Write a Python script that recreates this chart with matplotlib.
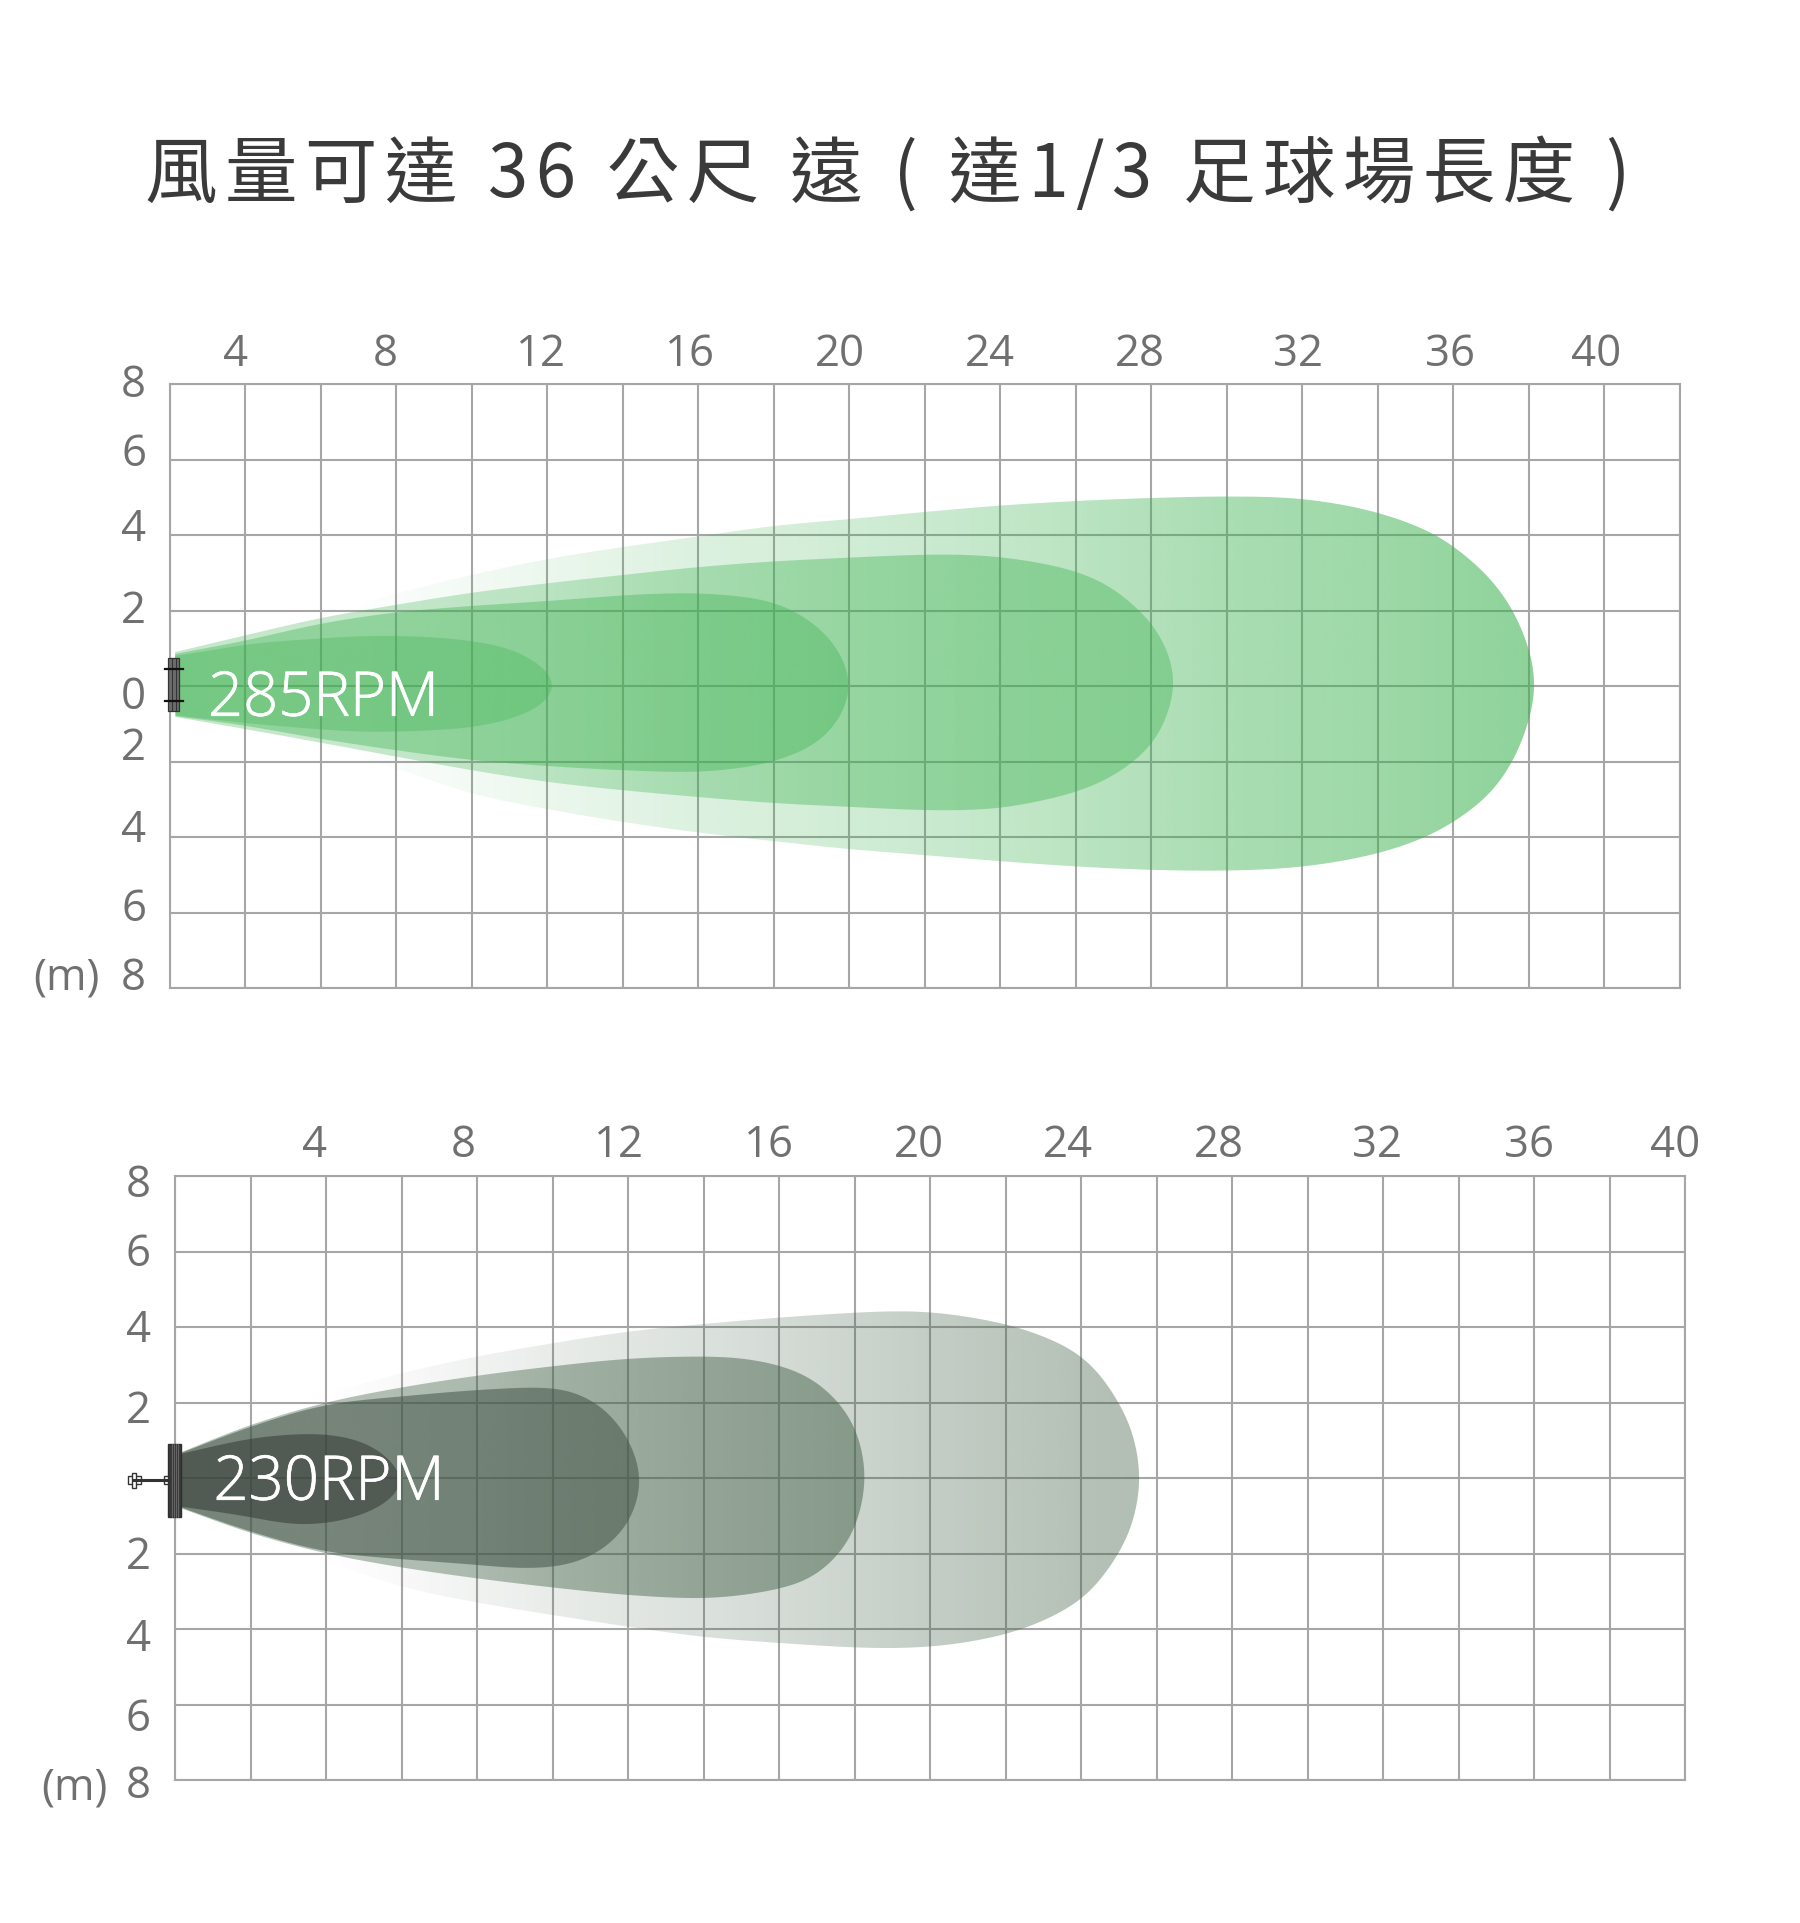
import numpy as np
import matplotlib
matplotlib.use("Agg")
import matplotlib.pyplot as plt
import matplotlib.patheffects as pe
from matplotlib.patches import Polygon, Rectangle
from matplotlib.lines import Line2D

# ---------- data ----------
title_text = "風量可達 36 公尺 遠 ( 達1/3 足球場長度 )"
x_tick_labels = ["4", "8", "12", "16", "20", "24", "28", "32", "36", "40"]
y_labels_top = ["8", "6", "4", "2", "0", "2", "4", "6", "8"]
y_labels_bottom = ["8", "6", "4", "2", "2", "4", "6", "8"]
unit_label = "(m)"
rpm_top = "285RPM"
rpm_bottom = "230RPM"

# outlines: distance (m) and lateral spread (m), top edge -> tip -> bottom edge
g1_x = [5, 6, 8, 10, 12, 14, 16, 18, 20, 22, 24, 26, 28, 30, 32, 33.55, 34, 35, 35.6, 36, 36.2,
        36, 35.6, 35, 34, 33.3, 32, 30, 28, 26, 24, 22, 20, 18, 16, 14, 12, 10, 8, 6, 5]
g1_y = [2.15, 2.45, 2.94, 3.36, 3.68, 3.96, 4.24, 4.42, 4.61, 4.78, 4.90, 4.98, 5.02, 4.96, 4.6, 4.02, 3.72, 2.85, 2.0, 1.05, 0.05,
        -0.98, -1.98, -2.85, -3.62, -4.0, -4.44, -4.79, -4.89, -4.87, -4.78, -4.64, -4.48, -4.32, -4.11, -3.88, -3.6, -3.26, -2.85, -2.18, -1.9]
g2_x = [0.15, 2, 4, 6, 8, 10, 12, 14, 16, 18, 20, 21, 22, 24, 25, 25.7, 26.1, 26.5, 26.66,
        26.5, 26.1, 25.55, 25, 24, 23, 22, 21, 20, 18, 16, 14, 12, 10, 8, 6, 4, 2, 0.15]
g2_y = [0.9, 1.34, 1.8, 2.15, 2.47, 2.72, 2.94, 3.15, 3.3, 3.4, 3.48, 3.48, 3.42, 3.05, 2.6, 2.0, 1.6, 0.8, 0.1,
        -0.6, -1.5, -2.0, -2.4, -2.82, -3.06, -3.24, -3.29, -3.29, -3.2, -3.1, -2.94, -2.76, -2.54, -2.23, -1.87, -1.5, -1.14, -0.82]
g3_x = [0.15, 2, 4, 6, 8, 10, 12, 13, 14, 15, 16, 16.55, 17.4, 17.83, 18.08,
        17.8, 17.2, 16, 15, 14, 12, 10, 8, 6, 4, 2, 0.15]
g3_y = [0.85, 1.2, 1.65, 1.95, 2.12, 2.25, 2.4, 2.45, 2.46, 2.39, 2.24, 2.0, 1.4, 0.78, 0.05,
        -0.82, -1.5, -2.01, -2.19, -2.28, -2.23, -2.12, -1.96, -1.7, -1.4, -1.05, -0.8]
g4_x = [0.15, 1, 2, 4, 5, 6, 7, 8, 8.77, 9.3, 9.8, 10.15, 10.38,
        10.2, 10, 9.3, 8.77, 8, 6, 5, 4, 2, 0.15]
g4_y = [0.8, 0.92, 1.1, 1.26, 1.32, 1.33, 1.29, 1.2, 1.06, 0.9, 0.6, 0.3, 0.05,
        -0.2, -0.46, -0.8, -0.95, -1.1, -1.21, -1.21, -1.15, -0.98, -0.78]

k1_x = [4, 6, 8, 10, 12, 14, 16, 18, 19, 20, 21, 22, 23, 24, 24.5, 25, 25.3, 25.48, 25.57,
        25.48, 25.3, 25, 24.5, 24, 22.5, 21, 20, 19, 18, 16, 14, 12, 10, 8, 6, 4]
k1_y = [2.25, 2.78, 3.22, 3.57, 3.88, 4.08, 4.25, 4.38, 4.42, 4.4, 4.27, 4.08, 3.76, 3.26, 2.75, 2.0, 1.42, 0.74, 0.0,
        -0.74, -1.42, -2.0, -2.72, -3.24, -3.99, -4.35, -4.47, -4.51, -4.49, -4.37, -4.21, -3.94, -3.63, -3.3, -2.88, -2.2]
k2_x = [0.15, 2, 4, 6, 8, 10, 12, 14, 15, 16, 16.8, 17.6, 18.02, 18.22, 18.3,
        18.22, 18, 17.6, 16.8, 16, 15, 14, 12, 10, 8, 6, 4, 2, 0.15]
k2_y = [0.68, 1.41, 2.0, 2.4, 2.71, 2.96, 3.16, 3.22, 3.18, 2.99, 2.69, 2.0, 1.36, 0.65, -0.03,
        -0.58, -1.38, -2.02, -2.7, -2.94, -3.11, -3.19, -3.1, -2.9, -2.66, -2.37, -2.0, -1.46, -0.8]
k3_x = [0.15, 2, 4, 6, 8, 10, 10.55, 11.2, 11.75, 12.15, 12.36,
        12.15, 11.9, 11.2, 10.55, 10, 9, 8, 6, 4, 2, 0.15]
k3_y = [0.66, 1.36, 1.94, 2.16, 2.33, 2.4, 2.31, 1.98, 1.45, 0.74, -0.03,
        -0.94, -1.38, -2.0, -2.27, -2.37, -2.39, -2.3, -2.15, -1.95, -1.42, -0.78]
k4_x = [0.15, 2, 3, 4, 5, 5.5, 5.9, 6.18, 5.9, 5.5, 5, 4, 3, 2, 0.15]
k4_y = [0.64, 1.05, 1.15, 1.17, 0.97, 0.7, 0.27, -0.08, -0.42, -0.75, -0.97, -1.21, -1.23, -1.03, -0.76]

# ---------- style ----------
W, H = 1800, 1923
GRID = "#a6a6a6"
TICK = "#707070"
LATIN = ["Open Sans", "DejaVu Sans"]

green_base = (60/255, 178/255, 80/255)
grey_base = (70/255, 100/255, 75/255)
slate_base = (68/255, 84/255, 72/255)
dark_base = (50/255, 55/255, 50/255)

top_layers = [
    (g1_x, g1_y, green_base, [0, 4.5, 9.4, 14, 20, 24, 28, 32, 36.2], [0, 0, .09, .18, .27, .35, .44, .50, .58]),
    (g2_x, g2_y, green_base, [0, 10, 14, 18, 22, 27], [.30, .28, .34, .39, .41, .38]),
    (g3_x, g3_y, green_base, [0, 18], [.38, .38]),
    (g4_x, g4_y, green_base, [0, 10], [.32, .32]),
]
bottom_layers = [
    (k1_x, k1_y, grey_base, [0, 4, 6, 8, 12, 16, 20, 24, 26], [0, 0, .04, .08, .16, .23, .32, .40, .42]),
    (k2_x, k2_y, grey_base, [0, 8, 10, 14, 18.5], [.40, .40, .44, .48, .52]),
    (k3_x, k3_y, slate_base, [0, 12.5], [.55, .55]),
    (k4_x, k4_y, dark_base, [0, 6.5], [.53, .53]),
]


def smooth(xs, ys, n=14, sigma=0.5, step=0.02):
    """Round the outline through the read points: centripetal Catmull-Rom,
    then a small Gaussian along its length to hide reading errors."""
    p = np.column_stack([xs, ys]).astype(float)
    p = np.vstack([2 * p[0] - p[1], p, 2 * p[-1] - p[-2]])
    out = []
    for i in range(len(p) - 3):
        p0, p1, p2, p3 = p[i:i + 4]
        t0 = 0.0
        t1 = t0 + np.linalg.norm(p1 - p0) ** .5
        t2 = t1 + np.linalg.norm(p2 - p1) ** .5
        t3 = t2 + np.linalg.norm(p3 - p2) ** .5
        t = np.linspace(t1, t2, n, endpoint=False)[:, None]
        a1 = (t1 - t) / (t1 - t0) * p0 + (t - t0) / (t1 - t0) * p1
        a2 = (t2 - t) / (t2 - t1) * p1 + (t - t1) / (t2 - t1) * p2
        a3 = (t3 - t) / (t3 - t2) * p2 + (t - t2) / (t3 - t2) * p3
        b1 = (t2 - t) / (t2 - t0) * a1 + (t - t0) / (t2 - t0) * a2
        b2 = (t3 - t) / (t3 - t1) * a2 + (t - t1) / (t3 - t1) * a3
        out.append((t2 - t) / (t2 - t1) * b1 + (t - t1) / (t2 - t1) * b2)
    out.append(p[-2][None])
    c = np.vstack(out)
    s = np.r_[0, np.cumsum(np.hypot(*np.diff(c, axis=0).T))]
    u = np.arange(0, s[-1], step)
    cx, cy = np.interp(u, s, c[:, 0]), np.interp(u, s, c[:, 1])
    m = int(4 * sigma / step)
    kern = np.exp(-0.5 * (np.arange(-m, m + 1) * step / sigma) ** 2)
    kern /= kern.sum()
    fx = np.convolve(np.pad(cx, m, mode="reflect", reflect_type="odd"), kern, mode="valid")
    fy = np.convolve(np.pad(cy, m, mode="reflect", reflect_type="odd"), kern, mode="valid")
    return np.column_stack([fx, fy])


def draw_panel(left, top, layers):
    cell = 75.5
    ax = fig.add_axes([left / W, 1 - (top + 8 * cell) / H, 20 * cell / W, 8 * cell / H], zorder=1)
    ax.set_xlim(0, 40)
    ax.set_ylim(-8, 8)
    ax.set_xticks(np.arange(0, 41, 2))
    ax.set_yticks(np.arange(-8, 9, 2))
    ax.grid(True, color=GRID, lw=1.5)
    ax.set_axisbelow(True)
    ax.tick_params(length=0, labelbottom=False, labelleft=False)
    for s in ax.spines.values():
        s.set_color(GRID)
        s.set_linewidth(1.5)
        s.set_zorder(0.6)
    gx = np.linspace(0, 40, 800)
    for i, (xs, ys, base, stops, alphas) in enumerate(layers):
        rgba = np.ones((1, gx.size, 4))
        rgba[..., :3] = base
        rgba[..., 3] = np.interp(gx, stops, alphas)
        poly = Polygon(smooth(xs, ys), closed=True, transform=ax.transData, facecolor="none", edgecolor="none")
        ax.add_patch(poly)
        im = ax.imshow(rgba, extent=[0, 40, -8, 8], aspect="auto", interpolation="bilinear",
                       origin="lower", zorder=2 + i)
        im.set_clip_path(poly)
    ax.set_xlim(0, 40)
    ax.set_ylim(-8, 8)
    return ax


fig = plt.figure(figsize=(W / 100, H / 100), dpi=100, facecolor="white")
draw_panel(169.5, 384, top_layers)
draw_panel(175.3, 1176, bottom_layers)

# overlay in pixel coordinates for the labels and the fan glyphs
ov = fig.add_axes([0, 0, 1, 1], zorder=5)
ov.set_xlim(0, W)
ov.set_ylim(H, 0)
ov.axis("off")
ov.patch.set_alpha(0)

ov.text(888, 176, "\u200a".join(title_text), ha="center", va="center",
        fontsize=52.3, color="#3a3a3a", family=["Noto Sans CJK TC", "DejaVu Sans"])

tick_fs = 31.5
for lab, px in zip(x_tick_labels, [235.4, 385, 540.5, 690.4, 840.3, 989.5, 1140.3, 1298.3, 1450.1, 1596.3]):
    ov.text(px, 349.5, lab, ha="center", va="center_baseline", fontsize=tick_fs, color=TICK, family=LATIN)
for lab, px in zip(x_tick_labels, [314.6, 463.5, 619, 768.5, 918.7, 1068.1, 1218.7, 1376.6, 1529, 1674.7]):
    ov.text(px, 1140.5, lab, ha="center", va="center_baseline", fontsize=tick_fs, color=TICK, family=LATIN)
for lab, py in zip(y_labels_top, [380.5, 449.5, 524, 606.5, 692, 743.5, 825.5, 904, 973]):
    ov.text(146, py, lab, ha="right", va="center_baseline", fontsize=tick_fs, color=TICK, family=LATIN)
for lab, py in zip(y_labels_bottom, [1180.5, 1249.5, 1325, 1406, 1552, 1634, 1714, 1781.5]):
    ov.text(151, py, lab, ha="right", va="center_baseline", fontsize=tick_fs, color=TICK, family=LATIN)
ov.text(100, 973, unit_label, ha="right", va="center_baseline", fontsize=tick_fs, color=TICK, family=LATIN)
ov.text(108, 1783, unit_label, ha="right", va="center_baseline", fontsize=tick_fs, color=TICK, family=LATIN)

halo = [pe.withStroke(linewidth=0.5, foreground="white")]
ov.text(208, 692, rpm_top, ha="left", va="center_baseline", fontsize=44.3, color="white", family=LATIN,
        weight="light", path_effects=halo)
ov.text(213.5, 1476, rpm_bottom, ha="left", va="center_baseline", fontsize=44.3, color="white", family=LATIN,
        weight="light", path_effects=halo)

# top fan
ov.add_patch(Rectangle((168.4, 658), 10.6, 53, fc="#6a6a6a", ec="#333333", lw=0.9))
for px in (172, 175.5):
    ov.add_line(Line2D([px, px], [658, 711], color="#333333", lw=0.7))
for py in (669, 700.5):
    ov.add_line(Line2D([165, 183], [py, py], color="#111111", lw=1.6))
# bottom fan
ov.add_patch(Rectangle((168.4, 1444), 12.2, 72.7, fc="#3a3a3a", ec="#2e2e2e", lw=1.0))
for px in (171.5, 173.5, 175.5, 177.5):
    ov.add_line(Line2D([px, px], [1444, 1516.7], color="#6e6e6e", lw=0.6))
ov.add_line(Line2D([134, 168], [1480, 1480], color="#333333", lw=2.2))
ov.add_patch(Rectangle((164, 1476), 4, 8, fc="white", ec="#333333", lw=1.0))
ov.add_patch(Rectangle((128, 1476), 13, 8, fc="white", ec="#333333", lw=1.0))
ov.add_patch(Rectangle((131.5, 1473), 4.5, 15, fc="white", ec="#333333", lw=1.0))

fig.savefig("out.png", dpi=100)
